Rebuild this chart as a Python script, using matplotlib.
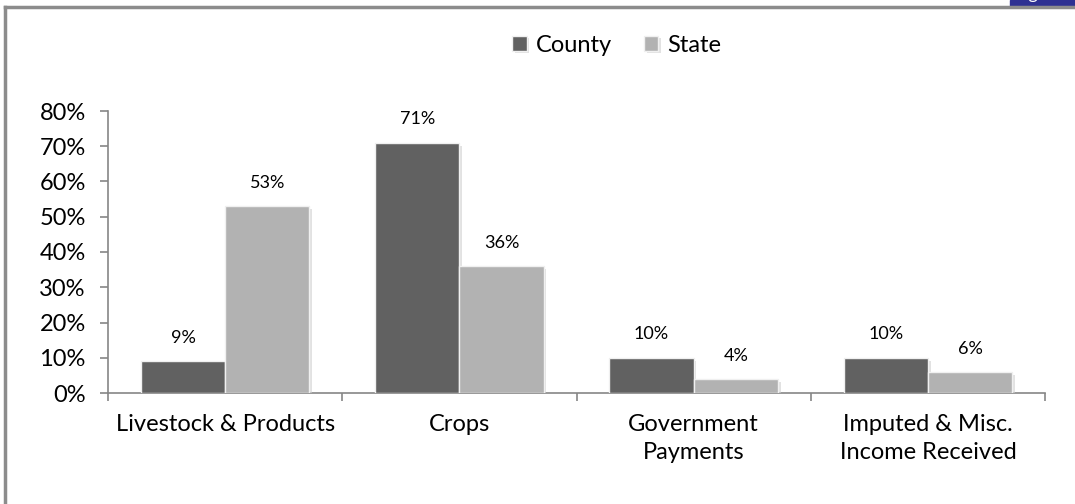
import matplotlib.pyplot as plt
import matplotlib.patheffects as pe
from matplotlib.lines import Line2D
from matplotlib.patches import Rectangle
import numpy as np

categories = ['Livestock & Products', 'Crops', 'Government\nPayments', 'Imputed & Misc.\nIncome Received']
county = [9, 71, 10, 10]
state = [53, 36, 4, 6]
yticks = [0, 10, 20, 30, 40, 50, 60, 70, 80]

plt.rcParams['font.family'] = ['Lato', 'DejaVu Sans']

fig = plt.figure(figsize=(10.75, 5.04), dpi=100)
ax = fig.add_axes([108 / 1075, 1 - 393 / 504, (1045 - 108) / 1075, (393 - 111) / 504])

x = np.arange(len(categories))
w = 0.36
shadow = [pe.SimplePatchShadow(offset=(2, -2), shadow_rgbFace='#d0d0d0', alpha=0.6), pe.Normal()]
b1 = ax.bar(x - w / 2, county, w, color='#616161', edgecolor='#f0f0f0', linewidth=1, label='County', zorder=3)
b2 = ax.bar(x + w / 2, state, w, color='#b2b2b2', edgecolor='#f0f0f0', linewidth=1, label='State', zorder=3)
for bars in (b1, b2):
    for b in bars:
        b.set_path_effects(shadow)
        ax.annotate(f'{b.get_height():g}%', (b.get_x() + b.get_width() / 2, b.get_height()),
                    xytext=(0, 11), textcoords='offset points', ha='center', va='bottom', fontsize=13)

ax.set_xlim(-0.5, len(categories) - 0.5)
ax.set_ylim(0, 80)
ax.set_yticks(yticks)
ax.set_yticklabels([f'{v}%' for v in yticks], fontsize=17)
ax.set_xticks(x)
ax.set_xticklabels(categories, fontsize=17, linespacing=1.4)
ax.tick_params(axis='x', length=0, pad=15)
ax.set_xticks(np.arange(len(categories) + 1) - 0.5, minor=True)
ax.tick_params(axis='x', which='minor', length=6, color='#868686', width=1.2)
ax.tick_params(axis='y', length=6, color='#868686', width=1.2, pad=10)
for s in ['top', 'right']:
    ax.spines[s].set_visible(False)
for s in ['left', 'bottom']:
    ax.spines[s].set_color('#868686')
    ax.spines[s].set_linewidth(1.2)

ax.legend(loc='center', bbox_to_anchor=(617 / 1075, 1 - 45 / 504), bbox_transform=fig.transFigure,
          ncol=2, frameon=False, fontsize=17, handlelength=0.6, handleheight=0.6,
          columnspacing=1.35, handletextpad=0.4)

# outer chart frame
fig.add_artist(Line2D([5 / 1075, 5 / 1075], [0, 1 - 7 / 504], color='#8c8c8c', lw=2.5))
fig.add_artist(Line2D([5 / 1075, 1], [1 - 7 / 504, 1 - 7 / 504], color='#8c8c8c', lw=2.5))

# cut-off header tab in the corner
fig.add_artist(Rectangle((1010 / 1075, 1 - 7 / 504), 65 / 1075, 7 / 504, color='#2e3192'))
fig.text(1014 / 1075, 1 + 1 / 504, 'Figure 39', color='white', fontsize=13, va='baseline')

fig.savefig('out.png', dpi=100)
